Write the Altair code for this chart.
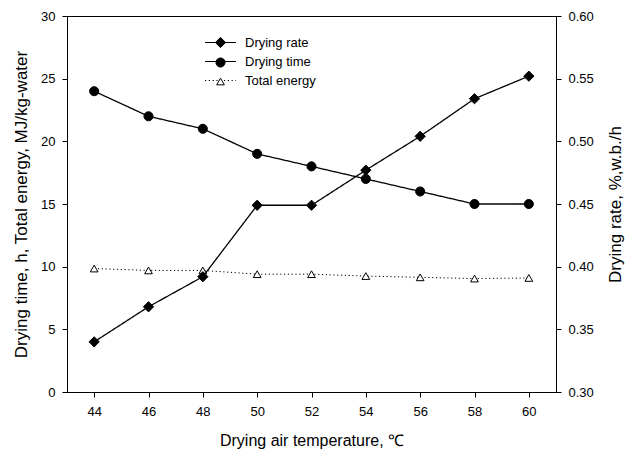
import altair as alt
import pandas as pd

# ---- data ----
temperature = [44, 46, 48, 50, 52, 54, 56, 58, 60]
drying_time = [24, 22, 21, 19, 18, 17, 16, 15, 15]
total_energy = [9.85, 9.7, 9.7, 9.4, 9.4, 9.25, 9.15, 9.05, 9.1]
drying_rate = [0.340, 0.368, 0.392, 0.449, 0.449, 0.477, 0.504, 0.534, 0.552]
series_names = ["Drying rate", "Drying time", "Total energy"]
marker_keys = ["rate", "time", "energy"]
x_ticks = [44, 46, 48, 50, 52, 54, 56, 58, 60]
left_ticks = [0, 5, 10, 15, 20, 25, 30]
right_ticks = [0.30, 0.35, 0.40, 0.45, 0.50, 0.55, 0.60]

FONT = "Liberation Sans"

time_df = pd.DataFrame({"temp": temperature, "value": drying_time,
                        "series": "time", "lseries": "Drying time"})
energy_df = pd.DataFrame({"temp": temperature, "value": total_energy,
                          "series": "energy", "lseries": "Total energy"})
rate_df = pd.DataFrame({"temp": temperature, "rate": drying_rate,
                        "series": "rate", "lseries": "Drying rate"})

x_enc = alt.X("temp:Q",
              scale=alt.Scale(domain=[43, 61], nice=False, zero=False),
              axis=alt.Axis(values=x_ticks, title="Drying air temperature, ℃",
                            titleFontSize=16, labelPadding=8, titlePadding=14))

y_left = alt.Y("value:Q",
               scale=alt.Scale(domain=[0, 30], nice=False),
               axis=alt.Axis(values=left_ticks,
                             title="Drying time, h, Total energy, MJ/kg-water",
                             titlePadding=10))
y_right = alt.Y("rate:Q",
                scale=alt.Scale(domain=[0.30, 0.60], nice=False, zero=False),
                axis=alt.Axis(values=right_ticks, format=".2f", orient="right",
                              title="Drying rate, %,w.b./h", titleAngle=270,
                              titlePadding=31))

# legend positions are relative to the plot area origin (67, 16)
legend_lines = alt.Legend(orient="none", legendX=147, legendY=20, title=None,
                          symbolType="M-3,0H3", symbolSize=107,
                          symbolStrokeColor="black", symbolStrokeWidth=1.2,
                          labelFont=FONT, labelFontSize=13, labelColor="black",
                          labelOffset=18, rowPadding=5, padding=0, labelLimit=300)
legend_marks = alt.Legend(orient="none", legendX=147, legendY=20, title=None,
                          symbolStrokeColor="black", symbolStrokeWidth=1,
                          symbolOpacity=1,
                          labelFont=FONT, labelFontSize=13, labelExpr="' '",
                          labelOffset=1, rowPadding=5, padding=0, labelLimit=300)

dash_enc = alt.StrokeDash("lseries:N",
                          scale=alt.Scale(domain=series_names,
                                          range=[[1, 0], [1, 0], [1.2, 2.6]]),
                          legend=legend_lines)
shape_enc = alt.Shape("series:N",
                      scale=alt.Scale(domain=marker_keys,
                                      range=["diamond", "circle", "triangle-up"]),
                      legend=legend_marks)
fill_enc = alt.Fill("series:N",
                    scale=alt.Scale(domain=marker_keys,
                                    range=["black", "black", "white"]),
                    legend=legend_marks)
stroke_enc = alt.Stroke("series:N",
                        scale=alt.Scale(domain=marker_keys,
                                        range=["black", "black", "black"]),
                        legend=legend_marks)
size_enc = alt.Size("series:N",
                    scale=alt.Scale(domain=marker_keys, range=[105, 60, 52]),
                    legend=legend_marks)


def line_layer(df, y, width):
    return alt.Chart(df).mark_line(color="black", strokeWidth=width).encode(
        x=x_enc, y=y, strokeDash=dash_enc)


def point_layer(df, y):
    return alt.Chart(df).mark_point(filled=True, strokeWidth=1,
                                    opacity=1).encode(
        x=x_enc, y=y, shape=shape_enc, fill=fill_enc, stroke=stroke_enc,
        size=size_enc)


left = alt.layer(
    line_layer(energy_df, y_left, 1),
    line_layer(time_df, y_left, 1.3),
    point_layer(energy_df, y_left),
    point_layer(time_df, y_left),
)
right = alt.layer(
    line_layer(rate_df, y_right, 1.3),
    point_layer(rate_df, y_right),
)

chart = alt.layer(left, right).resolve_scale(y="independent").properties(
    width=489, height=376,
    autosize=alt.AutoSizeParams(type="none"),
    padding={"left": 67, "top": 16, "right": 79, "bottom": 61},
    background="white",
).configure_axis(
    labelFont=FONT, titleFont=FONT, labelFontSize=13, titleFontSize=17,
    titleFontWeight="normal", labelColor="black", titleColor="black",
    domainColor="black", tickColor="black", tickSize=5, labelPadding=7,
    grid=False, domainWidth=1, tickWidth=1,
).configure_view(stroke="black", strokeWidth=1)

chart.save("out.html", embed_options={"renderer": "svg", "actions": False})
